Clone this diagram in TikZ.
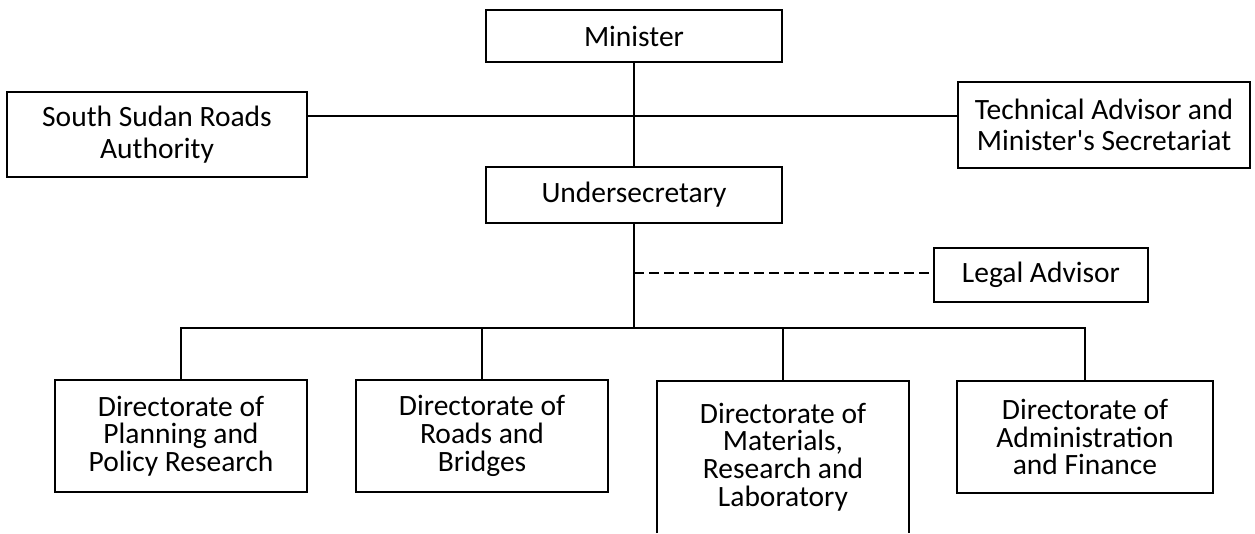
\documentclass[tikz,border=0pt]{standalone}
\usepackage{fontspec}
\setmainfont{Carlito}
\begin{document}
\begin{tikzpicture}[x=1pt,y=-1pt,
  box/.style={draw=black,line width=2.6pt,align=center,inner sep=0pt,
    font=\fontsize{29.5}{31.7}\selectfont},
  dbox/.style={box,minimum width=252pt,minimum height=112pt,
    font=\fontsize{29.5}{27.7}\selectfont},
  link/.style={draw=black,line width=1.7pt}]
\useasboundingbox (0,0) rectangle (1255,533);
\fill[white] (0,0) rectangle (1255,533);
\node[box,minimum width=296pt,minimum height=52pt] (min) at (634,36) {Minister};
\node[box,minimum width=300pt,minimum height=85pt] (ssra) at (157,134.5) {South Sudan Roads\\Authority};
\node[box,minimum width=292pt,minimum height=86pt] (ta) at (1104,125) {Technical Advisor and\\Minister\textquotesingle s Secretariat};
\node[box,minimum width=296pt,minimum height=56pt] (us) at (634,195) {Undersecretary};
\node[box,minimum width=214pt,minimum height=54pt] (legal) at (1041,275) {Legal Advisor};
\node[dbox] (d1) at (181,436) {Directorate of\\Planning and\\Policy Research};
\node[dbox] (d2) at (482,436) {Directorate of\\Roads and\\Bridges};
\node[dbox,draw=none,outer sep=0pt,minimum height=152pt] (d3) at (783,457) {Directorate of\\Materials,\\Research and\\Laboratory};
\node[dbox,minimum width=256pt] (d4) at (1085,437) {Directorate of\\Administration\\and Finance};
\draw[line width=2.6pt] (d3.south west) -- (d3.north west) -- (d3.north east) -- (d3.south east);
\coordinate (hl) at (634,116);
\coordinate (bus) at (634,328);
\coordinate (dl) at (634,273);
\path[link] (min.south) -- (us.north);
\path[link] (ssra.east |- hl) -- (ta.west |- hl);
\path[link] (us.south) -- (bus);
\draw[line width=1.7pt,dash pattern=on 10pt off 5pt] (dl) -- (legal.west |- dl);
\path[link] (d1.north) -- (d1.north |- bus) -- (d4.north |- bus) -- (d4.north);
\path[link] (d2.north |- bus) -- (d2.north);
\path[link] (d3.north |- bus) -- (d3.north);
\end{tikzpicture}
\end{document}
